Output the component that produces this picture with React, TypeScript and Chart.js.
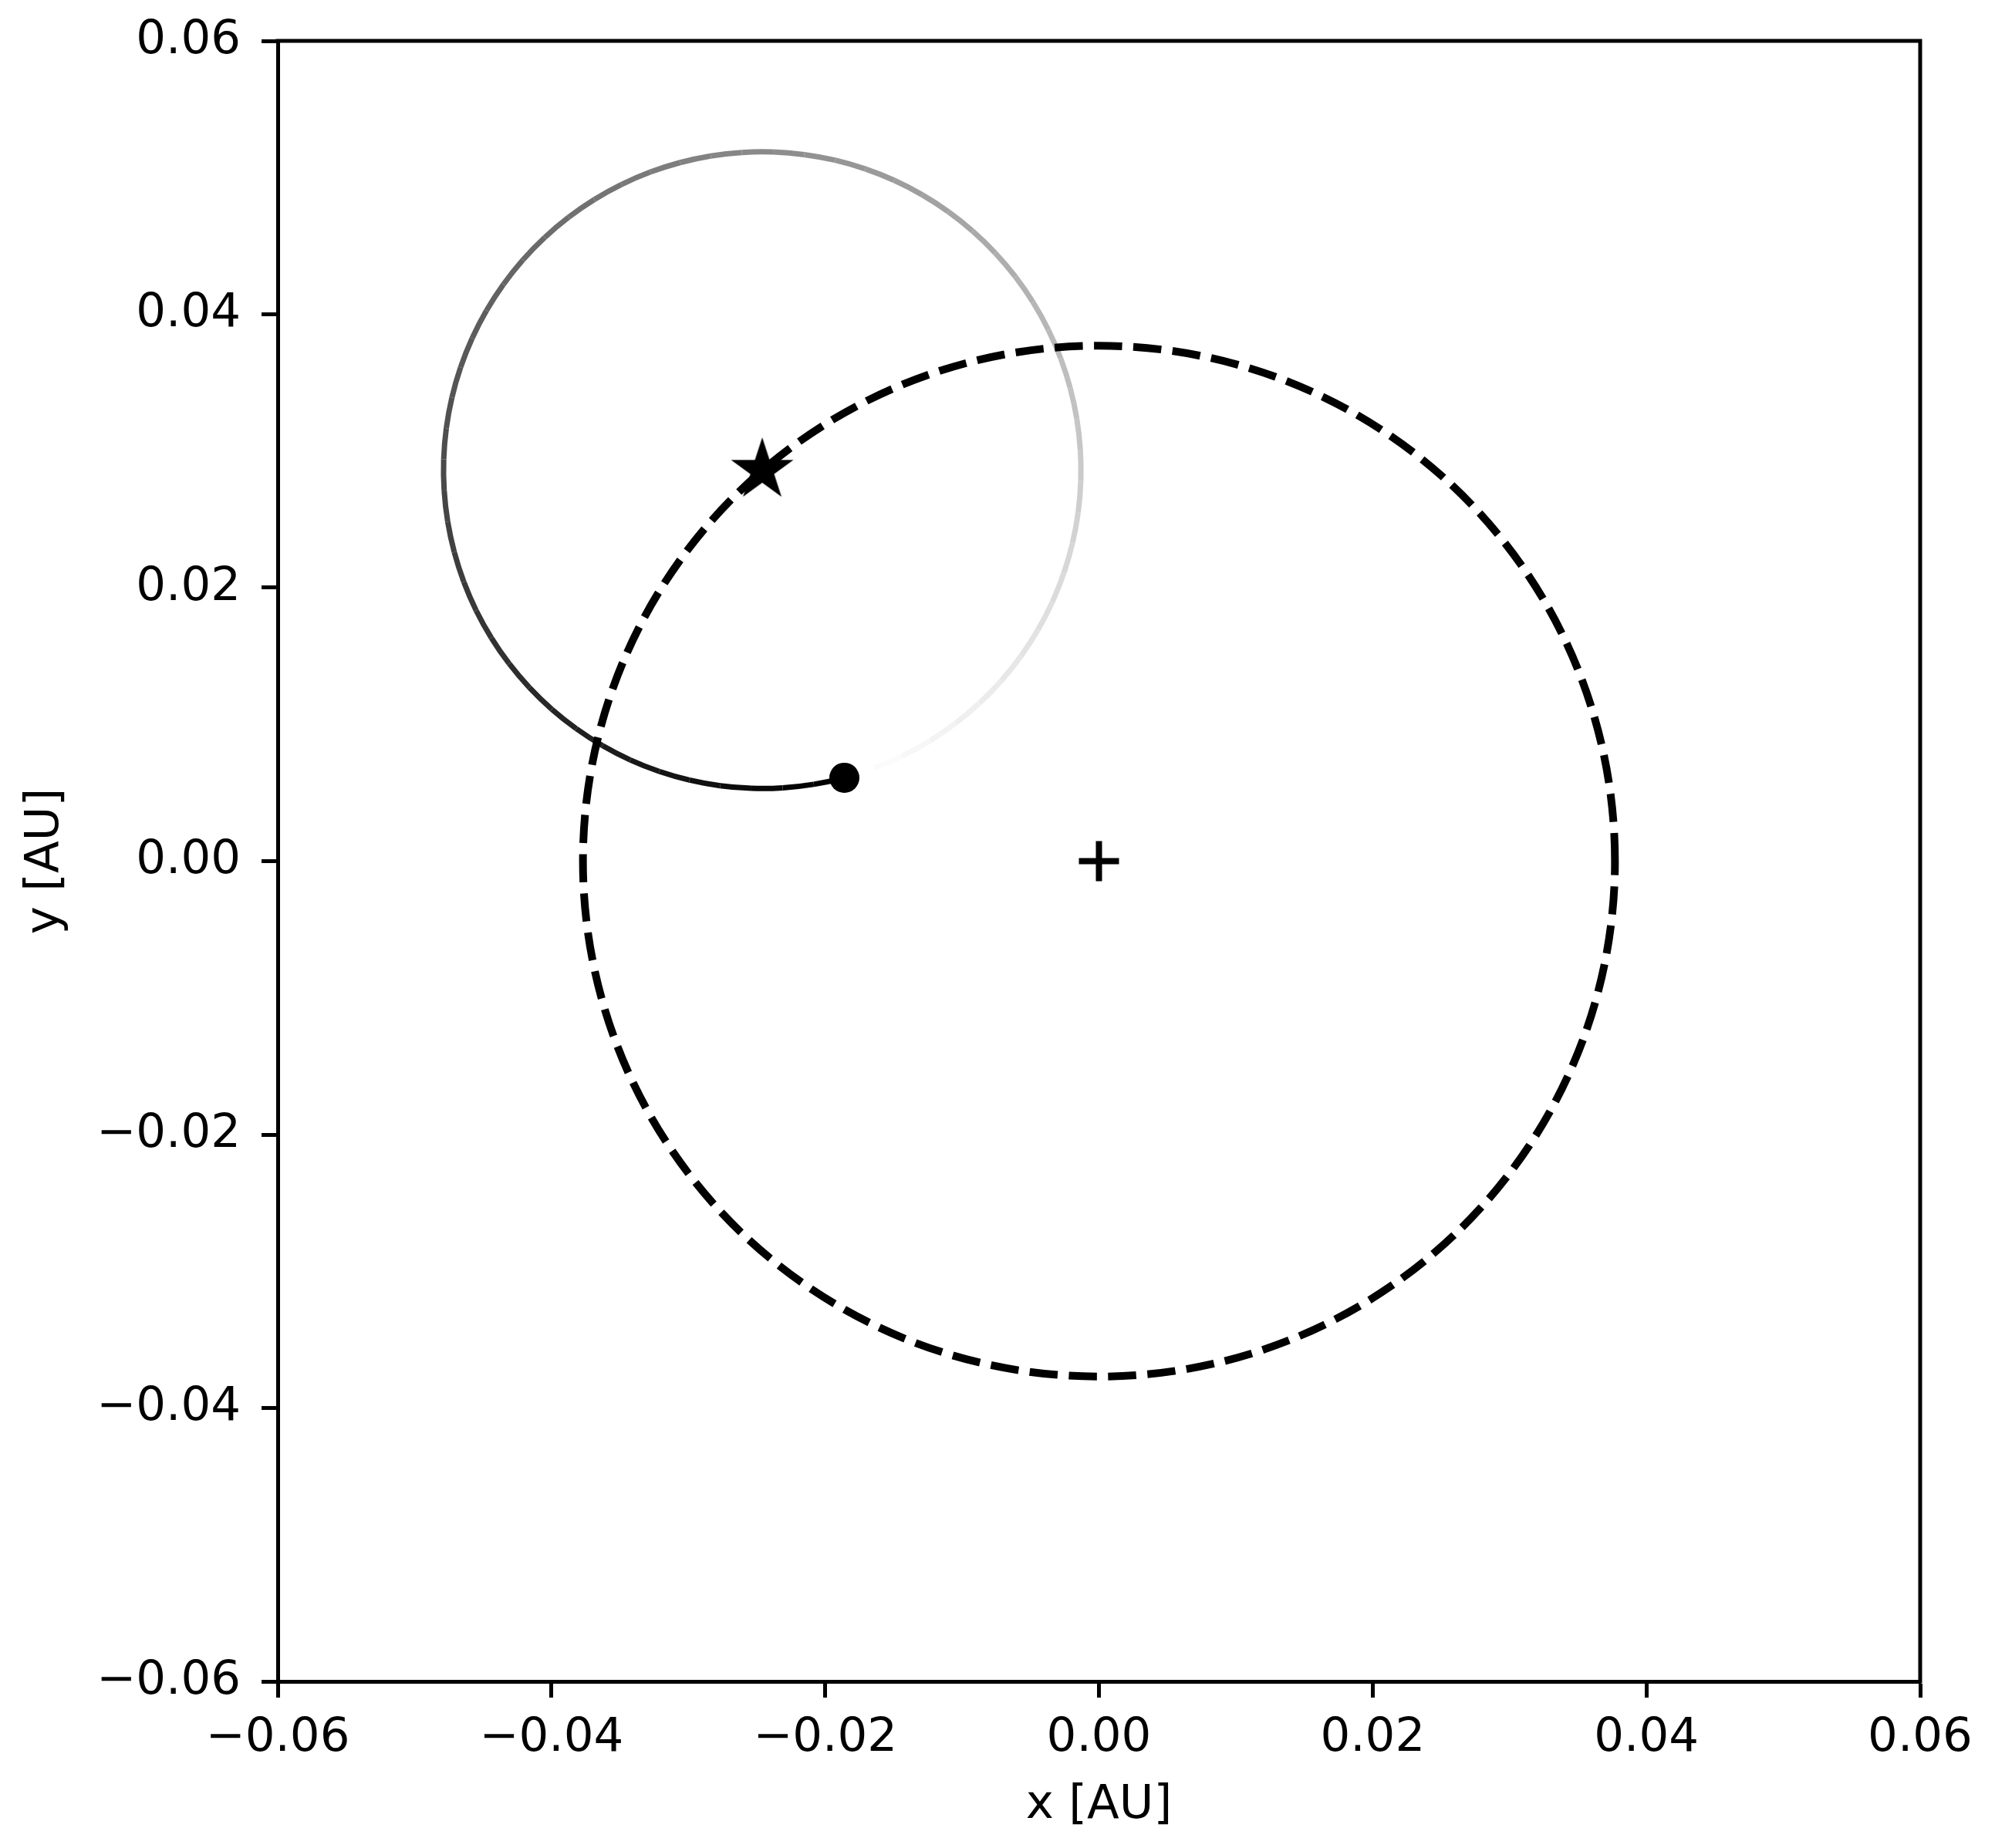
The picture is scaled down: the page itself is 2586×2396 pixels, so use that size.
import React, { useEffect, useRef } from 'react';
import { Chart, registerables } from 'chart.js';

Chart.register(...registerables);

// ---- data ----
const X_TICKS = [-0.06, -0.04, -0.02, 0.0, 0.02, 0.04, 0.06];
const Y_TICKS = [-0.06, -0.04, -0.02, 0.0, 0.02, 0.04, 0.06];
const AXIS_MIN = [-0.06];
const AXIS_MAX = [0.06];

// barycentre (+ marker)
const CENTER_X = [0.0];
const CENTER_Y = [0.0];
// star (★ marker) and the radius of its orbit round the barycentre (dashed)
const STAR_X = [-0.0246];
const STAR_Y = [0.0286];
const STAR_ORBIT_RADIUS = [0.0377];
// planet (● marker); its faded trail is one orbit round the star
const PLANET_X = [-0.0186];
const PLANET_Y = [0.0061];
const TRAIL_SEGMENTS = [64];

const X_TITLE = 'x [AU]';
const Y_TITLE = 'y [AU]';

// ---- layout / style ----
const W = 2586;
const H = 2396;
const FONT = { family: "'DejaVu Sans', sans-serif", size: 61, lineHeight: 1.2 };
const SPINE = 5;

const fmt = (v: number) => {
  if (Math.abs(v) < 1e-9) return '0.00';
  return v.toFixed(2).replace('-', '\u2212');
};

function makeStarCanvas(r: number) {
  const size = Math.ceil(r * 2 + 4);
  const c = document.createElement('canvas');
  c.width = size;
  c.height = size;
  const ctx = c.getContext('2d')!;
  const cx = size / 2;
  const cy = size / 2;
  const inner = r * 0.381966;
  ctx.beginPath();
  for (let i = 0; i < 10; i++) {
    const rr = i % 2 === 0 ? r : inner;
    const a = -Math.PI / 2 + (i * Math.PI) / 5;
    const px = cx + rr * Math.cos(a);
    const py = cy + rr * Math.sin(a);
    if (i === 0) ctx.moveTo(px, py);
    else ctx.lineTo(px, py);
  }
  ctx.closePath();
  ctx.fillStyle = '#000';
  ctx.fill();
  return c;
}

const orbitPlugin = {
  id: 'orbits',
  beforeDatasetsDraw(chart: any) {
    const { ctx, chartArea } = chart;
    const xs = chart.scales.x;
    const ys = chart.scales.y;
    ctx.save();
    ctx.beginPath();
    ctx.rect(chartArea.left, chartArea.top, chartArea.right - chartArea.left, chartArea.bottom - chartArea.top);
    ctx.clip();

    // planet trail round the star, fading from black (now) to white (one orbit ago)
    const sx = STAR_X[0];
    const sy = STAR_Y[0];
    const dx = PLANET_X[0] - sx;
    const dy = PLANET_Y[0] - sy;
    const pr = Math.sqrt(dx * dx + dy * dy);
    const theta0 = Math.atan2(dy, dx);
    const pcx = xs.getPixelForValue(sx);
    const pcy = ys.getPixelForValue(sy);
    const prx = Math.abs(xs.getPixelForValue(sx + pr) - pcx);
    const pry = Math.abs(ys.getPixelForValue(sy + pr) - pcy);
    const n = TRAIL_SEGMENTS[0];
    const step = (2 * Math.PI) / n;
    ctx.lineWidth = 7;
    ctx.lineCap = 'butt';
    ctx.setLineDash([]);
    for (let i = n - 1; i >= 0; i--) {
      const a1 = theta0 - i * step;
      const a2 = theta0 - (i + 1) * step;
      const g = Math.round((255 * i) / (n - 1));
      ctx.strokeStyle = `rgb(${g},${g},${g})`;
      ctx.beginPath();
      ctx.ellipse(pcx, pcy, prx, pry, 0, -a1, -a2, false);
      ctx.stroke();
    }

    // star orbit round the barycentre (dashed)
    const ccx = xs.getPixelForValue(CENTER_X[0]);
    const ccy = ys.getPixelForValue(CENTER_Y[0]);
    const R = STAR_ORBIT_RADIUS[0];
    const crx = Math.abs(xs.getPixelForValue(CENTER_X[0] + R) - ccx);
    const cry = Math.abs(ys.getPixelForValue(CENTER_Y[0] + R) - ccy);
    ctx.strokeStyle = '#000';
    ctx.lineWidth = 10;
    ctx.setLineDash([36.5, 14.5]);
    ctx.lineDashOffset = 0;
    ctx.beginPath();
    ctx.ellipse(ccx, ccy, crx, cry, 0, 0, -2 * Math.PI, true);
    ctx.stroke();
    ctx.restore();
  },
  afterDraw(chart: any) {
    // top and right spines
    const { ctx, chartArea } = chart;
    ctx.save();
    ctx.strokeStyle = '#000';
    ctx.lineWidth = SPINE;
    ctx.setLineDash([]);
    ctx.beginPath();
    ctx.moveTo(chartArea.left - SPINE / 2, chartArea.top);
    ctx.lineTo(chartArea.right, chartArea.top);
    ctx.moveTo(chartArea.right, chartArea.top - SPINE / 2);
    ctx.lineTo(chartArea.right, chartArea.bottom + SPINE / 2);
    ctx.stroke();
    ctx.restore();
  },
};

export default function App() {
  const ref = useRef<HTMLCanvasElement>(null);

  useEffect(() => {
    if (!ref.current) return;
    const star = makeStarCanvas(42.5);
    const chart = new Chart(ref.current, {
      type: 'scatter',
      data: {
        datasets: [
          {
            label: 'barycentre',
            data: CENTER_X.map((x, i) => ({ x, y: CENTER_Y[i] })),
            pointStyle: 'cross',
            pointRadius: 26,
            borderWidth: 8,
            borderColor: '#000',
            backgroundColor: '#000',
          },
          {
            label: 'planet',
            data: PLANET_X.map((x, i) => ({ x, y: PLANET_Y[i] })),
            pointStyle: 'circle',
            pointRadius: 19.5,
            borderWidth: 0,
            backgroundColor: '#000',
            borderColor: '#000',
          },
          {
            label: 'star',
            data: STAR_X.map((x, i) => ({ x, y: STAR_Y[i] })),
            pointStyle: star as any,
            pointRadius: 42.5,
            borderWidth: 0,
            backgroundColor: '#000',
          },
        ],
      },
      options: {
        animation: false,
        responsive: false,
        maintainAspectRatio: false,
        devicePixelRatio: 1,
        layout: { padding: { top: 53, right: 97, left: 0, bottom: 0 } },
        plugins: {
          legend: { display: false },
          tooltip: { enabled: false },
        },
        scales: {
          x: {
            type: 'linear',
            position: 'bottom',
            min: AXIS_MIN[0],
            max: AXIS_MAX[0],
            afterFit: (s: any) => {
              s.height = H - 2180;
              s.paddingLeft = 0;
              s.paddingRight = 0;
            },
            afterBuildTicks: (s: any) => {
              s.ticks = X_TICKS.map((v) => ({ value: v }));
            },
            ticks: {
              callback: (v: any) => fmt(Number(v)),
              font: FONT,
              color: '#000',
              padding: 17,
              maxRotation: 0,
              minRotation: 0,
              autoSkip: false,
            },
            grid: {
              display: true,
              drawOnChartArea: false,
              drawTicks: true,
              tickLength: 21,
              tickWidth: SPINE,
              tickColor: '#000',
            },
            border: { display: true, color: '#000', width: SPINE },
            title: {
              display: true,
              text: X_TITLE,
              color: '#000',
              font: FONT,
              padding: { top: 0, bottom: 18 },
            },
          },
          y: {
            type: 'linear',
            position: 'left',
            min: AXIS_MIN[0],
            max: AXIS_MAX[0],
            afterFit: (s: any) => {
              s.width = 360;
              s.paddingTop = 0;
              s.paddingBottom = 0;
            },
            afterBuildTicks: (s: any) => {
              s.ticks = Y_TICKS.map((v) => ({ value: v }));
            },
            ticks: {
              callback: (v: any) => fmt(Number(v)),
              font: FONT,
              color: '#000',
              padding: 27,
              autoSkip: false,
            },
            grid: {
              display: true,
              drawOnChartArea: false,
              drawTicks: true,
              tickLength: 21,
              tickWidth: SPINE,
              tickColor: '#000',
            },
            border: { display: true, color: '#000', width: SPINE },
            title: {
              display: true,
              text: Y_TITLE,
              color: '#000',
              font: FONT,
              padding: { top: 23, bottom: 0 },
            },
          },
        },
      },
      plugins: [orbitPlugin],
    } as any);
    return () => chart.destroy();
  }, []);

  return (
    <div style={{ position: 'absolute', left: 0, top: 0, width: W, height: H, background: '#fff' }}>
      <canvas ref={ref} width={W} height={H} style={{ width: W, height: H, display: 'block' }} />
    </div>
  );
}
